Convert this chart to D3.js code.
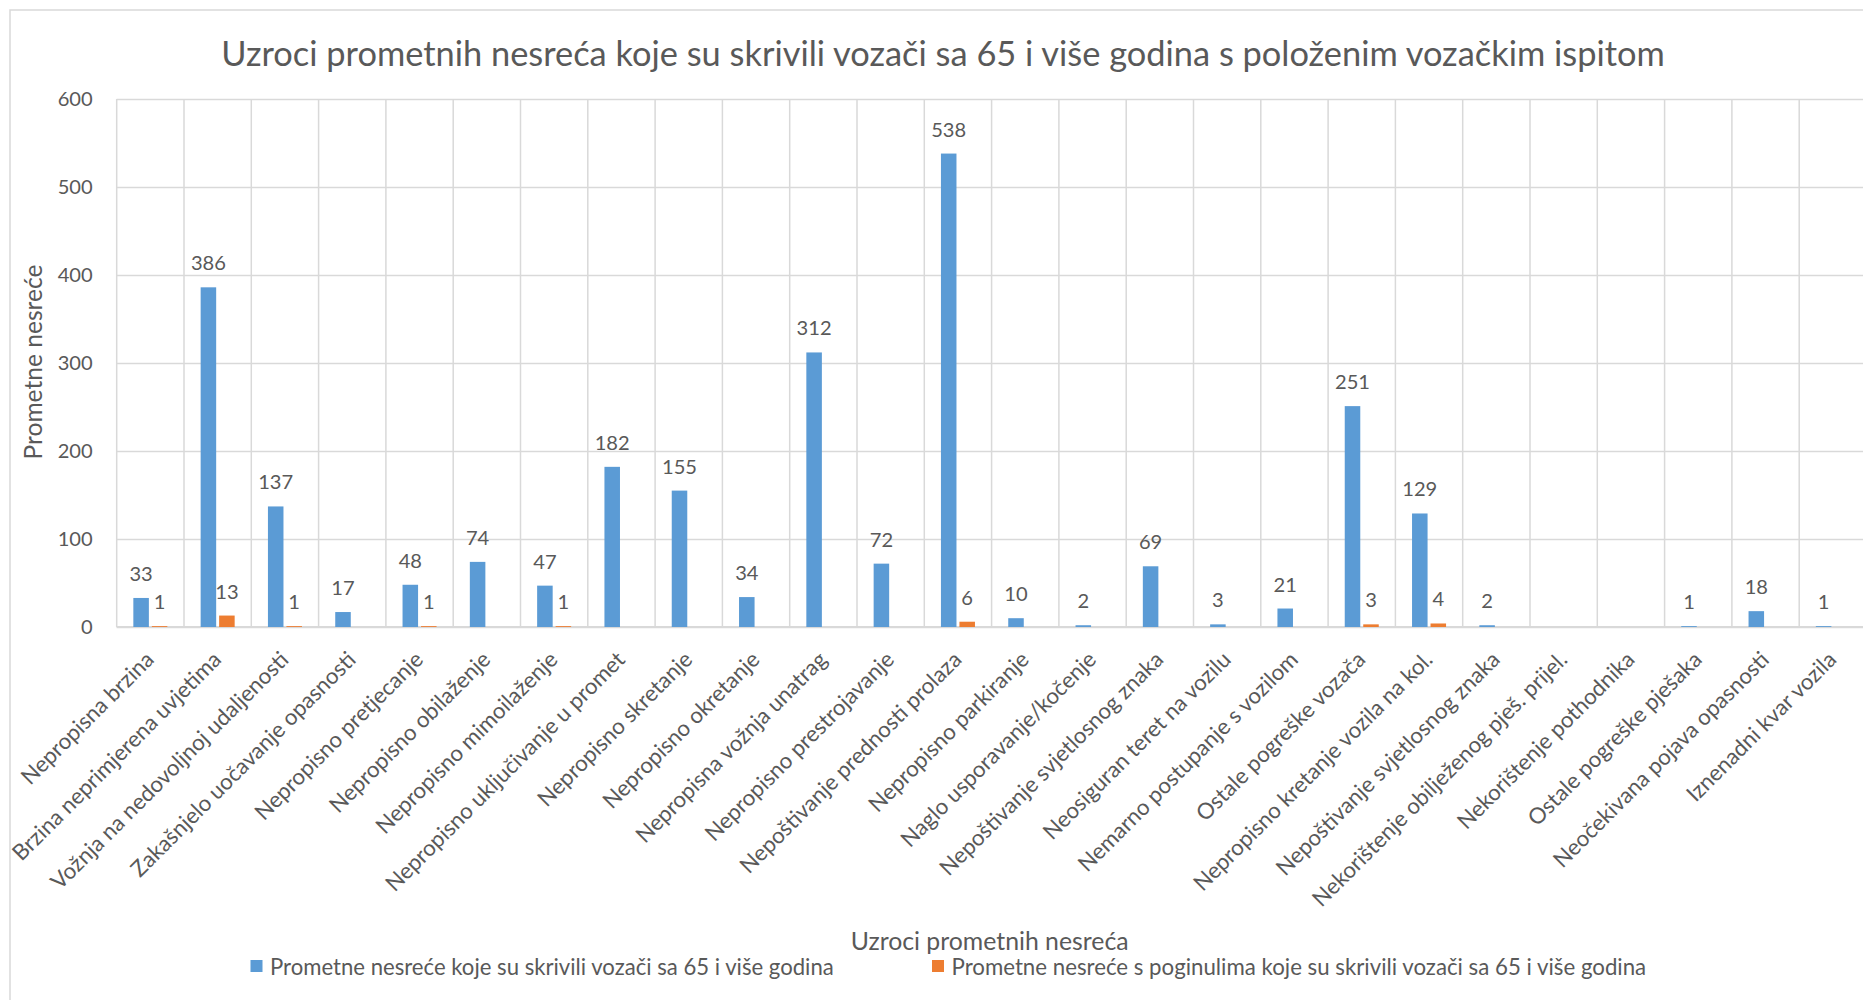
<!DOCTYPE html>
<meta charset="utf-8" />

<!-- Load d3.js -->
<script src="https://d3js.org/d3.v7.min.js"></script>

<style>
  body {
    margin: 0;
    background: #fff;
  }
  text {
    font-family: Lato, "Open Sans", sans-serif;
    fill: #595959;
  }
</style>

<div id="chart"></div>

<script>
  // data (null = no bar, no label)
  var categories = [
    "Nepropisna brzina",
    "Brzina neprimjerena uvjetima",
    "Vožnja na nedovoljnoj udaljenosti",
    "Zakašnjelo uočavanje opasnosti",
    "Nepropisno pretjecanje",
    "Nepropisno obilaženje",
    "Nepropisno mimoilaženje",
    "Nepropisno uključivanje u promet",
    "Nepropisno skretanje",
    "Nepropisno okretanje",
    "Nepropisna vožnja unatrag",
    "Nepropisno prestrojavanje",
    "Nepoštivanje prednosti prolaza",
    "Nepropisno parkiranje",
    "Naglo usporavanje/kočenje",
    "Nepoštivanje svjetlosnog znaka",
    "Neosiguran teret na vozilu",
    "Nemarno postupanje s vozilom",
    "Ostale pogreške vozača",
    "Nepropisno kretanje vozila na kol.",
    "Nepoštivanje svjetlosnog znaka",
    "Nekorištenje obilježenog pješ. prijel.",
    "Nekorištenje pothodnika",
    "Ostale pogreške pješaka",
    "Neočekivana pojava opasnosti",
    "Iznenadni kvar vozila",
  ];

  var allAccidents = [
    33, 386, 137, 17, 48, 74, 47, 182, 155, 34, 312, 72, 538, 10, 2, 69, 3, 21,
    251, 129, 2, null, null, 1, 18, 1,
  ];

  var fatalAccidents = [
    1, 13, 1, null, 1, null, 1, null, null, null, null, null, 6, null, null,
    null, null, null, 3, 4, null, null, null, null, null, null,
  ];

  var seriesNames = [
    "Prometne nesreće koje su skrivili vozači sa 65 i više godina",
    "Prometne nesreće s poginulima koje su skrivili vozači sa 65 i više godina",
  ];
  var seriesColors = ["#5B9BD5", "#ED7D31"];

  var yTicks = [0, 100, 200, 300, 400, 500, 600];

  var titleText =
    "Uzroci prometnih nesreća koje su skrivili vozači sa 65 i više godina s položenim vozačkim ispitom";
  var xTitle = "Uzroci prometnih nesreća";
  var yTitle = "Prometne nesreće";

  // layout
  var W = 1863,
    H = 1000;
  var plot = { left: 116.7, top: 99, bottom: 627, step: 67.3 };
  plot.right = plot.left + plot.step * categories.length;

  var svg = d3
    .select("#chart")
    .append("svg")
    .attr("width", W)
    .attr("height", H);

  // font size so that a string gets a given width
  function fitFont(str, width) {
    var t = svg.append("text").style("font-size", "100px").text(str);
    var w = t.node().getComputedTextLength();
    t.remove();
    return (100 * width) / w;
  }

  var numSize = fitFont("600", 35);
  var catSize = fitFont("Iznenadni kvar vozila", 201);

  // outer frame
  svg
    .append("rect")
    .attr("x", 10)
    .attr("y", 10)
    .attr("width", W + 20)
    .attr("height", H + 20)
    .attr("fill", "none")
    .attr("stroke", "#D9D9D9")
    .attr("stroke-width", 1.5);

  // scales
  var idx = d3.range(categories.length);
  var x0 = d3.scaleBand().domain(idx).range([plot.left, plot.right]);
  var x1 = d3
    .scaleBand()
    .domain([0, 1])
    .range([0, x0.bandwidth()])
    .paddingInner(0.16)
    .paddingOuter(0.9);
  var y = d3.scaleLinear().domain([0, 600]).range([plot.bottom, plot.top]);

  // title
  svg
    .append("text")
    .attr("x", 943)
    .attr("y", 66)
    .attr("text-anchor", "middle")
    .style("font-size", fitFont(titleText, 1444) + "px")
    .text(titleText);

  // horizontal grid + y tick labels
  var yAxis = svg
    .append("g")
    .attr("transform", "translate(" + plot.left + ",0)")
    .call(
      d3
        .axisLeft(y)
        .tickValues(yTicks)
        .tickSize(-(plot.right - plot.left))
        .tickPadding(24)
    );
  yAxis.select(".domain").remove();
  yAxis
    .selectAll(".tick line")
    .attr("stroke", "#D9D9D9")
    .attr("stroke-width", 1.5);
  yAxis
    .selectAll(".tick text")
    .style("font-size", numSize + "px")
    .style("font-family", "Lato, 'Open Sans', sans-serif")
    .attr("fill", "#595959");

  // vertical grid lines between categories
  svg
    .append("g")
    .selectAll("line")
    .data(idx.concat([categories.length]))
    .enter()
    .append("line")
    .attr("x1", function (i) {
      return i < categories.length ? x0(i) : plot.right;
    })
    .attr("x2", function (i) {
      return i < categories.length ? x0(i) : plot.right;
    })
    .attr("y1", y(600))
    .attr("y2", y(0))
    .attr("stroke", "#D9D9D9")
    .attr("stroke-width", 1.5);

  // bottom axis line
  svg
    .append("line")
    .attr("x1", plot.left)
    .attr("x2", plot.right)
    .attr("y1", y(0))
    .attr("y2", y(0))
    .attr("stroke", "#D9D9D9")
    .attr("stroke-width", 2.2);

  // bars + labels
  var series = [allAccidents, fatalAccidents];
  var points = [];
  series.forEach(function (vals, s) {
    vals.forEach(function (v, i) {
      if (v !== null) points.push({ s: s, i: i, v: v });
    });
  });

  svg
    .append("g")
    .selectAll("rect")
    .data(points)
    .enter()
    .append("rect")
    .attr("x", function (d) {
      return x0(d.i) + x1(d.s);
    })
    .attr("width", x1.bandwidth())
    .attr("y", function (d) {
      return y(d.v);
    })
    .attr("height", function (d) {
      return y(0) - y(d.v);
    })
    .attr("fill", function (d) {
      return seriesColors[d.s];
    });

  svg
    .append("g")
    .selectAll("text")
    .data(points)
    .enter()
    .append("text")
    .attr("x", function (d) {
      return x0(d.i) + x1(d.s) + x1.bandwidth() / 2;
    })
    .attr("y", function (d) {
      return y(d.v) - 25;
    })
    .attr("text-anchor", "middle")
    .attr("dominant-baseline", "central")
    .style("font-size", numSize + "px")
    .text(function (d) {
      return d.v;
    });

  // category labels, rotated
  svg
    .append("g")
    .selectAll("text")
    .data(idx)
    .enter()
    .append("text")
    .attr("transform", function (i) {
      return (
        "translate(" +
        (x0(i) + x0.bandwidth() / 2 + 5) +
        "," +
        661 +
        ") rotate(-45)"
      );
    })
    .attr("text-anchor", "end")
    .style("font-size", catSize + "px")
    .text(function (i) {
      return categories[i];
    });

  // axis titles
  svg
    .append("text")
    .attr("x", (plot.left + plot.right) / 2 - 2)
    .attr("y", 940)
    .attr("text-anchor", "middle")
    .attr("dominant-baseline", "central")
    .style("font-size", fitFont(xTitle, 278) + "px")
    .text(xTitle);

  svg
    .append("text")
    .attr("transform", "translate(32,362) rotate(-90)")
    .attr("text-anchor", "middle")
    .attr("dominant-baseline", "central")
    .style("font-size", fitFont(yTitle, 195) + "px")
    .text(yTitle);

  // legend
  var legendX = [250.5, 932];
  var legendW = [564, 695];
  var legend = svg
    .append("g")
    .selectAll("g")
    .data(seriesNames)
    .enter()
    .append("g")
    .attr("transform", function (d, i) {
      return "translate(" + legendX[i] + ",966)";
    });
  legend
    .append("rect")
    .attr("x", 0)
    .attr("y", -6)
    .attr("width", 12)
    .attr("height", 12)
    .attr("fill", function (d, i) {
      return seriesColors[i];
    });
  legend
    .append("text")
    .attr("x", 19.5)
    .attr("y", 0)
    .attr("dominant-baseline", "central")
    .style("font-size", function (d, i) {
      return fitFont(d, legendW[i]) + "px";
    })
    .text(function (d) {
      return d;
    });
</script>
